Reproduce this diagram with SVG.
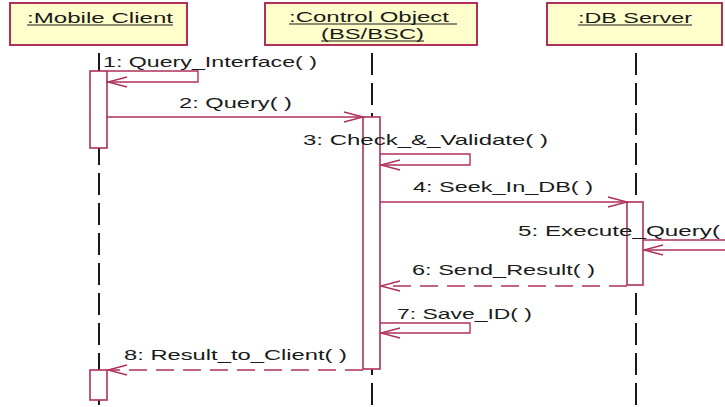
<svg xmlns="http://www.w3.org/2000/svg" width="725" height="407" viewBox="0 0 725 407">
  <style>
    .obj { fill: #ffffcc; stroke: #b0305a; stroke-width: 2; }
    .title { font-family: "Liberation Sans", Arial, sans-serif; font-size: 15px; fill: #1a1a1a; }
    .uline { stroke: #1a1a1a; stroke-width: 1.2; }
    .life { stroke: #1a1a1a; stroke-width: 2; stroke-dasharray: 22 8; fill: none; }
    .act { fill: #ffffff; stroke: #b0305a; stroke-width: 1.6; }
    .msg { stroke: #b0305a; stroke-width: 1.4; fill: none; }
    .ret { stroke: #b0305a; stroke-width: 1.4; fill: none; stroke-dasharray: 18 9; }
    .head { stroke: #b0305a; stroke-width: 1.4; fill: none; }
    .lbl { font-family: "Liberation Sans", Arial, sans-serif; font-size: 15px; fill: #1a1a1a; }
  </style>
  <rect width="725" height="407" fill="#ffffff"/>

  <!-- lifelines -->
  <g id="lifelines">
    <line class="life" x1="99" y1="53" x2="99" y2="407"/>
    <line class="life" x1="372" y1="53" x2="372" y2="407"/>
    <line class="life" x1="636" y1="53" x2="636" y2="407"/>
  </g>

  <g id="mobile-client">
    <rect class="obj" x="10" y="3" width="177" height="42"/>
    <text class="title" x="27" y="23" textLength="146" lengthAdjust="spacingAndGlyphs">:Mobile Client</text>
    <line class="uline" x1="27" y1="25" x2="173" y2="25"/>
    <rect class="act" x="90" y="71" width="17" height="77"/>
    <rect class="act" x="90" y="370" width="17" height="30"/>
  </g>

  <g id="control-object">
    <rect class="obj" x="265" y="3" width="212" height="42"/>
    <text class="title" x="289" y="22" textLength="160" lengthAdjust="spacingAndGlyphs">:Control Object</text>
    <line class="uline" x1="289" y1="24" x2="457" y2="24"/>
    <text class="title" x="321" y="39" textLength="103" lengthAdjust="spacingAndGlyphs">(BS/BSC)</text>
    <line class="uline" x1="321" y1="41" x2="424" y2="41"/>
    <rect class="act" x="363" y="117" width="17" height="252"/>
  </g>

  <g id="db-server">
    <rect class="obj" x="547" y="3" width="175" height="42"/>
    <text class="title" x="578" y="23" textLength="114" lengthAdjust="spacingAndGlyphs">:DB Server</text>
    <line class="uline" x1="578" y1="25" x2="692" y2="25"/>
    <rect class="act" x="627" y="202" width="16" height="83"/>
  </g>

  <!-- messages -->
  <g id="connectors">
    <!-- 1: self call on the client -->
    <polyline class="msg" points="107,71 198,71 198,82 107,82"/>
    <polyline class="head" points="127,77 108,82 127,87"/>
    <!-- 2 -->
    <line class="msg" x1="107" y1="117" x2="363" y2="117"/>
    <polyline class="head" points="344,112 363,117 344,122"/>
    <!-- 3: self call on the control object -->
    <polyline class="msg" points="380,154 470,154 470,165 381,165"/>
    <polyline class="head" points="400,160 381,165 400,170"/>
    <!-- 4 -->
    <line class="msg" x1="380" y1="202" x2="627" y2="202"/>
    <polyline class="head" points="608,197 627,202 608,207"/>
    <!-- 5: self call on the DB server, loop runs past the right edge -->
    <polyline class="msg" points="643,240 740,240 740,250 644,250"/>
    <polyline class="head" points="663,245 644,250 663,255"/>
    <!-- 6: return -->
    <line class="ret" x1="627" y1="286" x2="381" y2="286"/>
    <polyline class="head" points="400,281 381,286 400,291"/>
    <!-- 7: self call on the control object -->
    <polyline class="msg" points="380,323 470,323 470,333 381,333"/>
    <polyline class="head" points="400,328 381,333 400,338"/>
    <!-- 8: return to client -->
    <line class="ret" x1="363" y1="370" x2="108" y2="370"/>
    <polyline class="head" points="127,365 108,370 127,375"/>
  </g>

  <g id="labels">
    <text class="lbl" x="103" y="67" textLength="214" lengthAdjust="spacingAndGlyphs">1: Query_Interface( )</text>
    <text class="lbl" x="179" y="108" textLength="113" lengthAdjust="spacingAndGlyphs">2: Query( )</text>
    <text class="lbl" x="303" y="145" textLength="245" lengthAdjust="spacingAndGlyphs">3: Check_&amp;_Validate( )</text>
    <text class="lbl" x="413" y="192" textLength="180" lengthAdjust="spacingAndGlyphs">4: Seek_In_DB( )</text>
    <text class="lbl" x="518" y="236" textLength="202" lengthAdjust="spacingAndGlyphs">5: Execute_Query(</text>
    <text class="lbl" x="412" y="275" textLength="183" lengthAdjust="spacingAndGlyphs">6: Send_Result( )</text>
    <text class="lbl" x="397" y="319" textLength="135" lengthAdjust="spacingAndGlyphs">7: Save_ID( )</text>
    <text class="lbl" x="124" y="360" textLength="223" lengthAdjust="spacingAndGlyphs">8: Result_to_Client( )</text>
  </g>
</svg>
